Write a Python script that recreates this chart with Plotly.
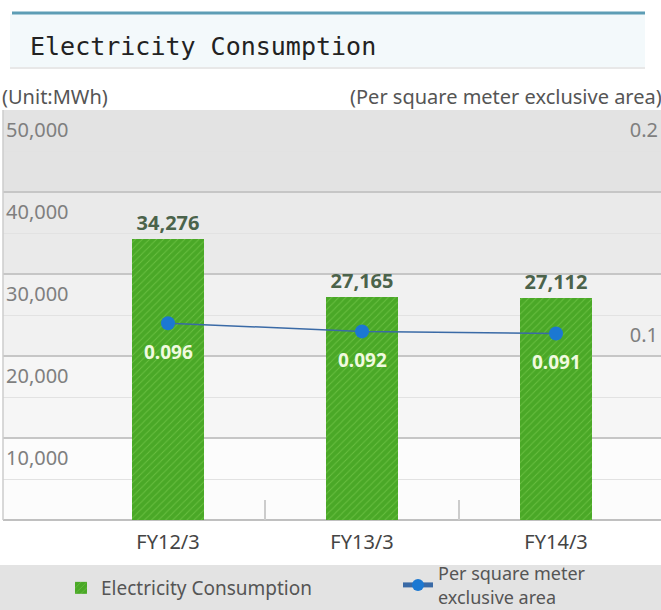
import plotly.graph_objects as go

categories = ["FY12/3", "FY13/3", "FY14/3"]
consumption = [34276, 27165, 27112]
per_sqm = [0.096, 0.092, 0.091]
y_ticks = [10000, 20000, 30000, 40000, 50000]
y_tick_text = ["10,000", "20,000", "30,000", "40,000", "50,000"]
y2_ticks = [0.1, 0.2]
y2_tick_text = ["0.1", "0.2"]
bar_name = "Electricity Consumption"
line_name = "Per square meter<br>exclusive area"

W, H = 661, 610
ML, MR, MT, MB = 3, 0, 110, 90
PH = H - MT - MB

def py(p):  # pixel y -> paper y
    return (H - MB - p) / PH

def px(p):  # pixel x -> paper x
    return (p - ML) / (W - ML - MR)

fig = go.Figure()

fig.add_trace(go.Bar(
    x=categories, y=consumption, name=bar_name,
    width=0.371, legend="legend",
    marker=dict(color="#4aa827", line=dict(width=0),
                pattern=dict(shape="/", fgcolor="#8ad85c", bgcolor="#4aa827",
                             size=5, solidity=0.18)),
    texttemplate="%{y:,}", textposition="outside", cliponaxis=False,
    textfont=dict(family="Noto Sans", size=20, color="#4b634b", weight="bold"),
    yaxis="y", xaxis="x",
))

fig.add_trace(go.Scatter(
    x=categories, y=per_sqm, name=line_name, yaxis="y2", xaxis="x",
    mode="lines+markers", legend="legend2",
    line=dict(color="#3a6aa6", width=1.5),
    marker=dict(color="#1b78d2", size=14),
))

# boundary ticks helper axis
fig.add_trace(go.Scatter(x=[0.5, 1.5], y=[None, None], xaxis="x2", yaxis="y",
                         showlegend=False, hoverinfo="skip"))

xr = [-0.8505, 2.541]
band_colors = ["#fcfcfc", "#f6f6f6", "#f1f1f1", "#eaeaea", "#e3e3e3"]
shapes = []
for i, c in enumerate(band_colors):
    shapes.append(dict(type="rect", xref="paper", yref="y", x0=0, x1=1,
                       y0=i * 10000, y1=(i + 1) * 10000, fillcolor=c,
                       line=dict(width=0), layer="below"))
# header
shapes += [
    dict(type="rect", xref="paper", yref="paper", x0=px(10), x1=px(645),
         y0=py(68), y1=py(14), fillcolor="#f3f9fb", line=dict(width=0), layer="below"),
    dict(type="line", xref="paper", yref="paper", x0=px(12), x1=px(645),
         y0=py(13), y1=py(13), line=dict(color="#5d9db5", width=3)),
    dict(type="line", xref="paper", yref="paper", x0=px(10), x1=px(645),
         y0=py(68), y1=py(68), line=dict(color="#e8e8e8", width=2)),
    # legend band
    dict(type="rect", xref="paper", yref="paper", x0=px(0), x1=px(661),
         y0=py(610), y1=py(565), fillcolor="#e3e3e3", line=dict(width=0), layer="below"),
    # left frame
    dict(type="line", xref="paper", yref="paper", x0=0, x1=0, y0=0, y1=1,
         line=dict(color="#cccccc", width=1.5)),
]

annotations = [
    dict(text="Electricity Consumption", xref="paper", yref="paper",
         x=px(28), y=py(46), xanchor="left", yanchor="middle", showarrow=False,
         font=dict(family="DejaVu Sans Mono", size=25, color="#222222")),
    dict(text="(Unit:MWh)", xref="paper", yref="paper", x=px(0), y=py(97),
         xanchor="left", yanchor="middle", showarrow=False,
         font=dict(family="Noto Sans", size=20, color="#555555")),
    dict(text="(Per square meter exclusive area)", xref="paper", yref="paper",
         x=px(664), y=py(97), xanchor="right", yanchor="middle", showarrow=False,
         font=dict(family="Noto Sans", size=20, color="#555555")),
]
# value labels of the per-square-meter series, placed at the data points
for c, v in zip(categories, per_sqm):
    annotations.append(dict(
        text=f"{v:.3f}", x=c, y=v, xref="x", yref="y2", showarrow=False,
        yanchor="middle", yshift=-29,
        font=dict(family="Noto Sans", size=19, color="#f0fadf", weight="bold")))

fig.update_layout(
    width=W, height=H, margin=dict(l=ML, r=MR, t=MT, b=MB),
    paper_bgcolor="white", plot_bgcolor="rgba(0,0,0,0)",
    shapes=shapes, annotations=annotations, bargap=0,
    xaxis=dict(range=xr, showgrid=False, zeroline=False, showline=False,
               ticks="", ticklabelstandoff=8,
               tickfont=dict(family="Noto Sans", size=20, color="#444444")),
    xaxis2=dict(range=xr, overlaying="x", showgrid=False, zeroline=False,
                tickvals=[0.5, 1.5], ticks="inside", ticklen=20, tickcolor="#cccccc",
                tickwidth=1.5, showticklabels=False, side="bottom", anchor="y"),
    yaxis=dict(range=[0, 50000], tickvals=y_ticks, ticktext=y_tick_text,
               ticklabelposition="inside bottom", ticklabeloverflow="allow",
               ticklabelshift=6,
               showgrid=True, gridcolor="#c6c6c6",
               gridwidth=1.5, zeroline=True, zerolinecolor="#c0c0c0", zerolinewidth=1.5,
               minor=dict(dtick=5000, showgrid=True, gridcolor="#e2e2e2", gridwidth=1),
               tickfont=dict(family="Noto Sans", size=20, color="#7f7f7f")),
    yaxis2=dict(range=[0, 0.2], overlaying="y", side="right", anchor="x",
                tickvals=y2_ticks, ticktext=y2_tick_text, showgrid=False, zeroline=False,
                ticklabelposition="inside bottom", ticklabeloverflow="allow",
                ticklabelshift=6,
                tickfont=dict(family="Noto Sans", size=20, color="#7f7f7f")),
    legend=dict(orientation="h", x=px(61), y=(H - 588) / H, yref="container",
                xanchor="left", yanchor="middle", bgcolor="rgba(0,0,0,0)",
                font=dict(family="Noto Sans", size=19, color="#555555"),
                itemsizing="constant"),
    legend2=dict(orientation="h", x=px(398), y=(H - 585) / H, yref="container",
                 xanchor="left", yanchor="middle", bgcolor="rgba(0,0,0,0)",
                 font=dict(family="Noto Sans", size=18, color="#555555"),
                 itemsizing="constant"),
)

fig.write_html("out.html", config={"displayModeBar": False},
               post_script="document.body.style.margin='0';document.body.style.overflow='hidden';")
